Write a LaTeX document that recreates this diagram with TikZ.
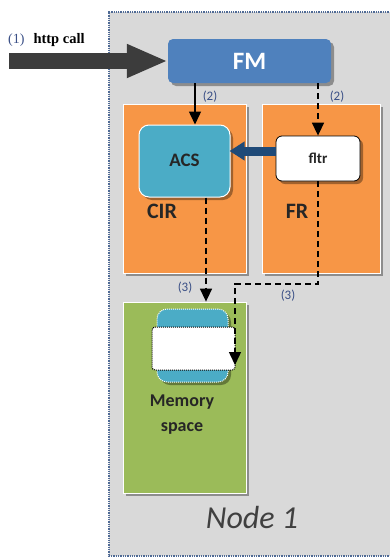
\documentclass[tikz,border=0pt]{standalone}
\usepackage{fontspec}
\setmainfont{Carlito}
\newfontfamily\callfont{Liberation Serif}
\usetikzlibrary{arrows.meta,shadows}

\definecolor{panelgray}{HTML}{D9D9D9}
\definecolor{panelrim}{HTML}{4F6A95}
\definecolor{fmblue}{HTML}{4F81BD}
\definecolor{acsblue}{HTML}{4BACC6}
\definecolor{roleorange}{HTML}{F79646}
\definecolor{memgreen}{HTML}{9BBB59}
\definecolor{callgray}{HTML}{3C3C3C}
\definecolor{pushblue}{HTML}{1F4A78}
\definecolor{steplabel}{HTML}{3A4F86}
\definecolor{darktext}{HTML}{262626}
\definecolor{titlegray}{HTML}{404040}

\tikzset{
  softshadow/.style={drop shadow={shadow xshift=3pt,shadow yshift=-3pt,opacity=0.35,fill=black}},
  fmbox/.style={fill=fmblue,rounded corners=5pt,minimum width=163pt,minimum height=44pt,
    inner sep=0pt,text=white,font=\bfseries\fontsize{25}{25}\selectfont,softshadow},
  rolebox/.style={fill=roleorange,draw=white,line width=0.8pt,minimum height=169pt,
    inner sep=0pt,softshadow},
  acsbox/.style={fill=acsblue,draw=white,line width=1pt,rounded corners=10pt,
    minimum width=91pt,minimum height=72pt,inner sep=0pt,
    font=\bfseries\fontsize{19}{19}\selectfont,text=darktext,softshadow},
  fltrbox/.style={fill=white,draw=black,line width=0.8pt,rounded corners=6pt,
    minimum width=84pt,minimum height=45pt,inner sep=0pt,
    font=\bfseries\fontsize{15}{15}\selectfont,text=darktext,softshadow},
  membox/.style={fill=memgreen,draw=white,line width=0.8pt,minimum width=123pt,
    minimum height=191pt,inner sep=0pt,softshadow},
  slotblue/.style={fill=acsblue,draw=white,densely dotted,line width=1pt,rounded corners=10pt,
    minimum width=71pt,minimum height=73pt,inner sep=0pt,softshadow},
  slotwhite/.style={fill=white,draw=black,densely dotted,line width=1pt,rounded corners=3pt,
    minimum width=83pt,minimum height=43pt,inner sep=0pt},
  rolename/.style={font=\bfseries\fontsize{22}{22}\selectfont,text=darktext,inner sep=0pt},
  stepnum/.style={font=\fontsize{13}{13}\selectfont,text=steplabel,inner sep=0pt},
  flow/.style={line width=1.5pt,-{Triangle[length=13pt,width=12pt]}},
  dflow/.style={flow,dash pattern=on 6pt off 4pt},
}

\begin{document}
\begin{tikzpicture}[x=1pt,y=-1pt]
\useasboundingbox (0,0) rectangle (390,560);
\begin{scope}
\clip (0,0) rectangle (390,560);
% the node panel
\fill[panelgray] (109,12) rectangle (400,556);
\draw[panelrim,densely dotted,line width=1.3pt] (400,12) -- (109,12) -- (109,556) -- (400,556);

% components
\node[fmbox] (FM) at (249.5,61) {FM};
\node[rolebox,minimum width=123pt] (CIR) at (184.5,188.5) {};
\node[rolebox,minimum width=118pt] (FR) at (321,188.5) {};
\node[acsbox] (ACS) at (184.5,161) {\raisebox{2pt}{ACS}};
\node[fltrbox] (fltr) at (318,158.5) {fltr};
\node[rolename] (cirname) at (162,211) {CIR};
\node[rolename] (frname) at (297,211) {FR};

\node[membox] (MEM) at (184.5,397.5) {};
\node[slotblue] (slot) at (192.5,345.5) {};
\node[slotwhite] (slotin) at (193.5,348.5) {};
\node[font=\bfseries\fontsize{18}{25}\selectfont,text=darktext,align=center,inner sep=0pt]
  (memname) at (182,415) {Memory\\space};

\node[font=\itshape\fontsize{32}{32}\selectfont,text=titlegray,inner sep=0pt] (nodename) at (252,517) {Node 1};

% incoming call
\node[anchor=west,inner sep=0pt] (calltext) at (8,40)
  {\callfont\fontsize{14}{14}\selectfont\textcolor{steplabel}{(1)}\hspace{9pt}\fontsize{14.5}{14.5}\selectfont\textbf{http call}};
\coordinate (callstart) at (9,61);
\draw[callgray,line width=16pt,-{Triangle[length=41pt,width=31pt]}] (callstart) -- (FM.west |- callstart);

% filter pushes into ACS
\draw[pushblue,line width=9pt,-{Triangle[length=15pt,width=18pt]}]
  ([yshift=7.5pt]fltr.west) -- ([yshift=10pt,xshift=-1pt]ACS.east);

% step (2)
\coordinate (acsin) at (195,0);
\coordinate (fltrin) at (318,0);
\draw[flow] (FM.south -| acsin) -- (ACS.north -| acsin);
\draw[dflow] (FM.south -| fltrin) -- (fltr.north -| fltrin);
\node[stepnum] (s2a) at (210,97) {(2)};
\node[stepnum] (s2b) at (337,97) {(2)};

% step (3)
\coordinate (acsout) at (206,0);
\coordinate (bend) at (318,284);
\coordinate (drop) at (235,284);
\coordinate (droptip) at (235,365);
\draw[dflow] (ACS.south -| acsout) -- (MEM.north -| acsout);
\draw[dflow] (fltr.south -| bend) -- (bend) -- (drop) -- (droptip);
\node[stepnum] (s3a) at (185,288) {(3)};
\node[stepnum] (s3b) at (288,296) {(3)};
\end{scope}
\end{tikzpicture}
\end{document}
